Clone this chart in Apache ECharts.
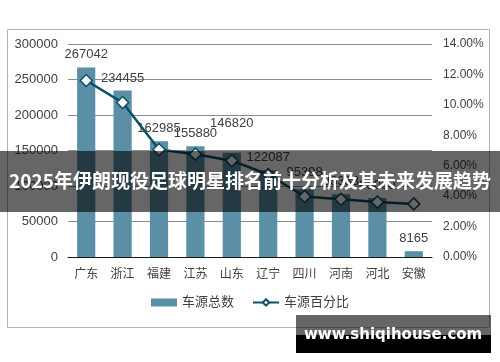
<!DOCTYPE html>
<html>
<head>
<meta charset="utf-8">
<script src="https://cdn.jsdelivr.net/npm/echarts@6/dist/echarts.min.js"></script>
<style>
html,body{margin:0;padding:0;background:#fff;}
#c{width:500px;height:362px;}
</style>
</head>
<body>
<div id="c"></div>
<script>
var categories = ['广东','浙江','福建','江苏','山东','辽宁','四川','河南','河北','安徽'];
var carTotals = [267042, 234455, 162985, 155880, 146820, 122087, 95398, 88333, 83000, 8165];
var carPercents = [0.1160, 0.1015, 0.0706, 0.0676, 0.0633, 0.0542, 0.0398, 0.0380, 0.0361, 0.0349];
var leftTicks = [0, 50000, 100000, 150000, 200000, 250000, 300000];
var rightTicks = [0, 0.02, 0.04, 0.06, 0.08, 0.10, 0.12, 0.14];
var seriesNames = ['车源总数', '车源百分比'];
var bannerTitle = '2025年伊朗现役足球明星排名前十分析及其未来发展趋势';
var watermark = 'www.shiqihouse.com';

var labelOffsets = {4: [0, -17], 6: [0, -4]};

var FONT = '"Liberation Sans", Arial, "Noto Sans CJK SC", sans-serif';
var chart = echarts.init(document.getElementById('c'), null, {renderer: 'canvas'});

var barData = carTotals.map(function (v, i) {
  var item = {value: v};
  if (labelOffsets[i]) item.label = {offset: labelOffsets[i]};
  return item;
});

chart.setOption({
  animation: false,
  backgroundColor: '#fff',
  grid: {left: 68, right: 68, top: 44, bottom: 105, containLabel: false},
  legend: {
    data: [
      {name: seriesNames[0], icon: 'rect'},
      {name: seriesNames[1]}
    ],
    bottom: 48,
    left: 'center',
    itemWidth: 26,
    itemHeight: 8,
    itemGap: 18,
    textStyle: {fontFamily: FONT, fontSize: 13, color: '#404040'}
  },
  xAxis: {
    type: 'category',
    data: categories,
    axisLine: {lineStyle: {color: '#1a1a1a', width: 1}},
    axisTick: {show: false},
    axisLabel: {fontFamily: FONT, fontSize: 12, color: '#404040', margin: 12}
  },
  yAxis: [
    {
      type: 'value', min: leftTicks[0], max: leftTicks[leftTicks.length - 1], interval: 50000,
      axisLine: {show: false}, axisTick: {show: false},
      splitLine: {lineStyle: {color: '#8c8c8c', width: 1}},
      axisLabel: {fontFamily: FONT, fontSize: 13, color: '#404040', margin: 10,
        formatter: function (v) { return String(v); }}
    },
    {
      type: 'value', min: rightTicks[0], max: rightTicks[rightTicks.length - 1], interval: 0.02,
      axisLine: {show: false}, axisTick: {show: false}, splitLine: {show: false},
      axisLabel: {fontFamily: FONT, fontSize: 12, color: '#404040', margin: 11,
        formatter: function (v) { return (v * 100).toFixed(2) + '%'; }}
    }
  ],
  series: [
    {
      name: seriesNames[0], type: 'bar', data: barData, barWidth: '50%',
      itemStyle: {color: '#5b8fa6'},
      label: {show: true, position: 'top', distance: 6, fontFamily: FONT, fontSize: 13, color: '#404040'}
    },
    {
      name: seriesNames[1], type: 'line', yAxisIndex: 1, data: carPercents,
      symbol: 'diamond', symbolSize: 12,
      lineStyle: {color: '#0e4f66', width: 2.5},
      itemStyle: {color: '#ffffff', borderColor: '#0e4f66', borderWidth: 1.5}
    }
  ],
  graphic: [
    {type: 'rect', z: 0, shape: {x: 7.5, y: 29.5, width: 482, height: 298},
      style: {fill: 'none', stroke: '#b3b3b3', lineWidth: 1}, silent: true},
    {type: 'rect', z: 100, shape: {x: 0, y: 151, width: 500, height: 61},
      style: {fill: 'rgba(0,0,0,0.6)'}, silent: true},
    {type: 'text', z: 101, left: 'center', top: 171,
      style: {text: bannerTitle, fill: '#ffffff', font: 'bold 19px "Noto Sans CJK SC", sans-serif'}, silent: true},
    {type: 'rect', z: 100, shape: {x: 296, y: 315, width: 195, height: 20},
      style: {fill: 'rgba(0,0,0,0.6)'}, silent: true},
    {type: 'rect', z: 100, shape: {x: 296, y: 335, width: 195, height: 18},
      style: {fill: '#000000'}, silent: true},
    {type: 'text', z: 101, left: 304, top: 328,
      style: {text: watermark, fill: '#ffffff', font: 'bold 15px "DejaVu Sans", sans-serif'}, silent: true}
  ]
});
</script>
</body>
</html>
